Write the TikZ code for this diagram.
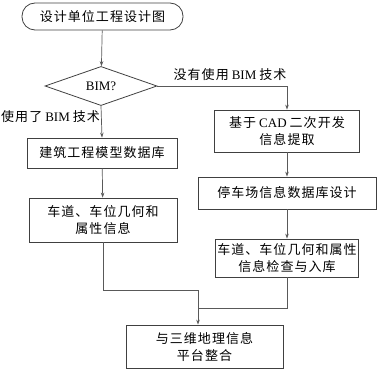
\documentclass[tikz,border=0pt]{standalone}
\usepackage{fontspec}
\setmainfont{Liberation Serif}
\newfontfamily\cjk[LetterSpace=8]{Noto Sans CJK SC}
\usetikzlibrary{shapes.geometric,arrows.meta}
\newcommand{\gapsp}{\hspace{3pt}}
\tikzset{
  line/.style={draw=black!65, line width=0.7pt},
  arr/.style={line, -{Stealth[length=5pt,width=3.5pt]}},
  box/.style={draw=black!75, line width=0.8pt, rectangle, inner sep=0pt, align=center, font=\cjk\fontsize{13}{17}\selectfont},
  lbl/.style={font=\cjk\fontsize{13}{16}\selectfont, inner sep=0pt}
}
\begin{document}
\begin{tikzpicture}[x=1pt,y=-1pt]
\useasboundingbox (0,0) rectangle (377,369);
\node[box, rounded corners=13pt, minimum width=161pt, minimum height=27pt] (start) at (102.5,16.5) {设计单位工程设计图};
\node[box, shape=diamond, minimum width=112pt, minimum height=32pt, font=\fontsize{13}{16}\selectfont] (dia) at (101,86) {BIM?};
\node[box, minimum width=150pt, minimum height=30pt] (lb1) at (102,153) {建筑工程模型数据库};
\node[box, minimum width=148pt, minimum height=44pt] (lb2) at (103,220) {车道、车位几何和\\属性信息};
\node[box, minimum width=145pt, minimum height=42pt] (rb1) at (287,131) {基于\gapsp{\rmfamily CAD}\gapsp 二次开发\\信息提取};
\node[box, minimum width=178pt, minimum height=32pt] (rb2) at (287,193) {停车场信息数据库设计};
\node[box, minimum width=143pt, minimum height=38pt] (rb3) at (287,258) {车道、车位几何和属性\\信息检查与入库};
\node[box, minimum width=157pt, minimum height=43pt] (bot) at (204.5,346.5) {与三维地理信息\\平台整合};
\node[lbl] (lno) at (230,75) {没有使用\gapsp{\rmfamily BIM}\gapsp 技术};
\node[lbl, anchor=west] (lyes) at (1,117) {使用了\gapsp{\rmfamily BIM}\gapsp 技术};
\coordinate (m1) at (198,290);
\coordinate (m2) at (198,308);
\draw[arr] (start) -- (dia);
\draw[arr] (dia.east) -| (rb1.north);
\draw[arr] (dia.south) -- (lb1.north);
\draw[arr] (lb1) -- (lb2);
\draw[arr] (rb1) -- (rb2);
\draw[arr] (rb2) -- (rb3);
\draw[line] (lb2.south) |- (m1);
\draw[line] (rb3.south) |- (m2);
\draw[arr] (m1) -- (m1 |- bot.north);
\end{tikzpicture}
\end{document}
